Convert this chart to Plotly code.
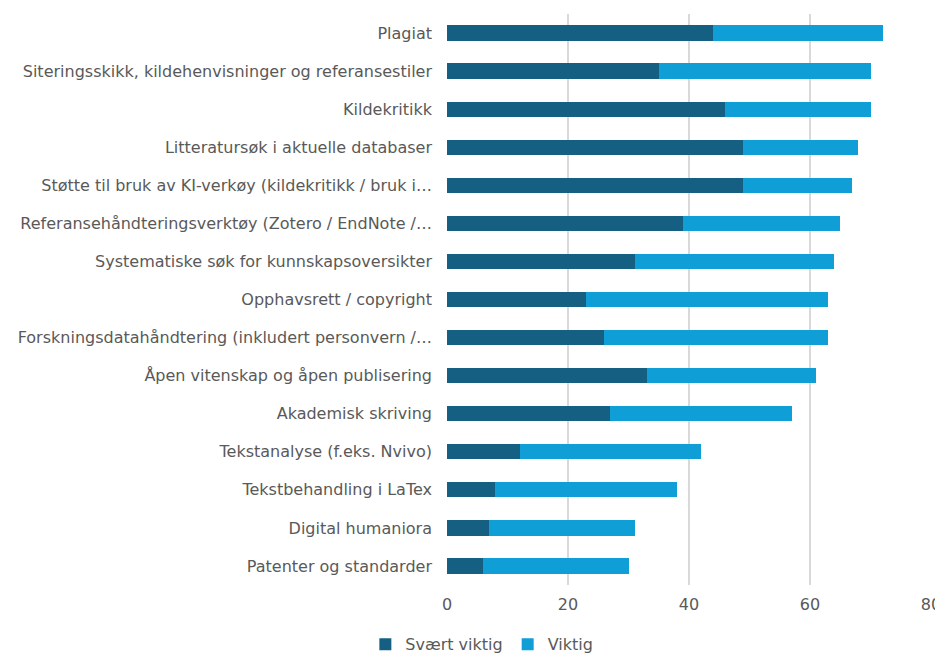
import plotly.graph_objects as go

categories = [
    "Plagiat",
    "Siteringsskikk, kildehenvisninger og referansestiler",
    "Kildekritikk",
    "Litteratursøk i aktuelle databaser",
    "Støtte til bruk av KI-verkøy (kildekritikk / bruk i…",
    "Referansehåndteringsverktøy (Zotero / EndNote /…",
    "Systematiske søk for kunnskapsoversikter",
    "Opphavsrett / copyright",
    "Forskningsdatahåndtering (inkludert personvern /…",
    "Åpen vitenskap og åpen publisering",
    "Akademisk skriving",
    "Tekstanalyse (f.eks. Nvivo)",
    "Tekstbehandling i LaTex",
    "Digital humaniora",
    "Patenter og standarder",
]
svaert_viktig = [44, 35, 46, 49, 49, 39, 31, 23, 26, 33, 27, 12, 8, 7, 6]
viktig = [28, 35, 24, 19, 18, 26, 33, 40, 37, 28, 30, 30, 30, 24, 24]
x_ticks = [0, 20, 40, 60, 80]

font_family = "DejaVu Sans, sans-serif"
text_color = "#595959"
fs = 16

fig = go.Figure()
fig.add_trace(go.Bar(
    y=categories, x=svaert_viktig, orientation="h", name="Svært viktig",
    marker=dict(color="#156082", line=dict(width=0)),
))
fig.add_trace(go.Bar(
    y=categories, x=viktig, orientation="h", name="Viktig",
    marker=dict(color="#0F9ED5", line=dict(width=0)),
))

fig.update_layout(
    barmode="stack",
    bargap=0.6,
    width=943, height=655,
    margin=dict(l=439, r=20, t=6, b=78, autoexpand=False),
    paper_bgcolor="white", plot_bgcolor="white",
    font=dict(family=font_family, size=fs, color=text_color),
    showlegend=True,
    legend=dict(orientation="h", x=0.072, xanchor="center", y=-0.074, yanchor="top",
                font=dict(size=fs, color=text_color), traceorder="normal",
                itemwidth=30),
    xaxis=dict(range=[0, 80], tickvals=x_ticks, showgrid=True, gridcolor="#d9d9d9",
               gridwidth=1.5, zeroline=False, showline=False, ticks="",
               automargin=False, ticklabelstandoff=8,
               tickfont=dict(size=fs, color=text_color)),
    yaxis=dict(autorange="reversed", showgrid=False, zeroline=False,
               showline=False, ticks="", ticklabelstandoff=14, automargin=False,
               tickfont=dict(size=fs, color=text_color)),
)

fig.write_html("out.html")
